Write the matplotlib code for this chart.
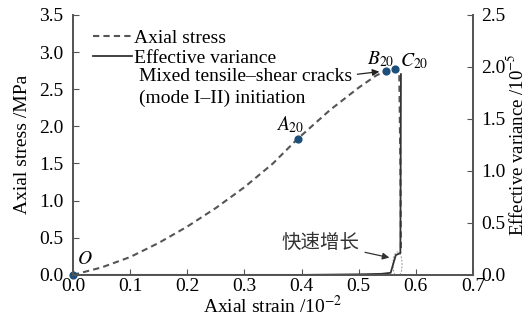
import matplotlib
matplotlib.use("Agg")
import matplotlib.pyplot as plt
from matplotlib.patches import Ellipse

plt.rcParams['font.family'] = ['Liberation Serif', 'Noto Sans CJK SC', 'DejaVu Sans']
plt.rcParams['mathtext.fontset'] = 'stix'

# Axial stress curve (strain /1e-2, stress MPa)
strain_s = [0.0, 0.05, 0.1, 0.15, 0.2, 0.25, 0.3, 0.35, 0.393, 0.45, 0.5, 0.53, 0.548, 0.563, 0.571, 0.573, 0.574]
stress_s = [0.0, 0.10, 0.24, 0.43, 0.65, 0.90, 1.18, 1.50, 1.83, 2.22, 2.52, 2.68, 2.75, 2.77, 2.74, 1.5, 0.30]

# Effective variance (x1e-5)
strain_v = [0.0, 0.2, 0.4, 0.5, 0.54, 0.556, 0.565, 0.573, 0.574]
var_v = [0.0, 0.0, 0.0, 0.005, 0.01, 0.02, 0.19, 0.21, 1.93]

# Key points
pt_x = [0.0, 0.393, 0.548, 0.563]
pt_y = [0.0, 1.83, 2.75, 2.77]

fig = plt.figure(figsize=(5.29, 3.23), dpi=100)
ax = fig.add_axes([0.138, 0.149, 0.756, 0.805])
ax2 = ax.twinx()

fs = 14
ls1, = ax.plot(strain_s, stress_s, ls=(0, (3, 2)), color='#555555', lw=1.5, label='Axial stress')
ls2, = ax2.plot(strain_v, var_v, ls='-', color='#333333', lw=1.3, label='Effective variance')
ax.scatter(pt_x, pt_y, s=24, color='#1d4f7a', zorder=5, clip_on=False)

ax.set_xlim(0, 0.7)
ax.set_ylim(0, 3.5)
ax2.set_ylim(0, 2.5)
ax.set_xticks([0.0, 0.1, 0.2, 0.3, 0.4, 0.5, 0.6, 0.7])
ax.set_yticks([0.0, 0.5, 1.0, 1.5, 2.0, 2.5, 3.0, 3.5])
ax2.set_yticks([0.0, 0.5, 1.0, 1.5, 2.0, 2.5])
fmt = matplotlib.ticker.FormatStrFormatter('%.1f')
ax.xaxis.set_major_formatter(fmt)
ax.yaxis.set_major_formatter(fmt)
ax2.yaxis.set_major_formatter(fmt)

for a in (ax, ax2):
    a.spines['top'].set_visible(False)
    for s in a.spines.values():
        s.set_color('#555555')
        s.set_linewidth(1.3)
    a.tick_params(direction='in', labelsize=fs, length=4, color='#555555', pad=7)
ax.tick_params(axis='x', pad=2)
ax2.tick_params(axis='y', pad=6)

ax.set_xlabel('Axial strain /10$^{-2}$', fontsize=fs, labelpad=0)
ax.set_ylabel('Axial stress /MPa', fontsize=fs, labelpad=6)
ax2.set_ylabel('Effective variance /10$^{-5}$', fontsize=13.5, labelpad=0)

ax.legend(handles=[ls1, ls2], loc='upper left', bbox_to_anchor=(0.03, 0.975), frameon=False,
          fontsize=fs, handlelength=2.0, handletextpad=0.1, labelspacing=0.12, borderaxespad=0)

ax.text(0.007, 0.15, '$O$', fontsize=fs)
ax.text(0.355, 1.95, '$A_{20}$', fontsize=fs)
ax.text(0.515, 2.83, '$B_{20}$', fontsize=fs)
ax.text(0.573, 2.81, '$C_{20}$', fontsize=fs)

ax.annotate('Mixed tensile\u2013shear cracks\n(mode I\u2013II) initiation', xy=(0.541, 2.74),
            xytext=(0.115, 2.78), fontsize=fs, va='top', ha='left', linespacing=1.3,
            arrowprops=dict(arrowstyle='-|>', color='#222222', lw=0.9, mutation_scale=10))

ax2.add_patch(Ellipse((0.568, 0.1), 0.016, 0.24, fill=False, ls=(0, (2, 1.5)), lw=0.7, color='#999999'))
ax2.annotate('快速增长', xy=(0.5585, 0.16), xytext=(0.365, 0.31), fontsize=14, color='#333333',
             family=['Noto Sans CJK SC'], va='center',
             arrowprops=dict(arrowstyle='-|>', color='#333333', lw=0.9, mutation_scale=10))

fig.savefig('out.png', dpi=100)
